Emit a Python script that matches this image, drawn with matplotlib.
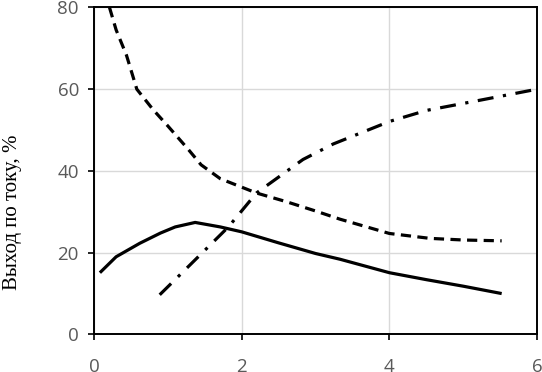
import matplotlib.pyplot as plt

# Solid curve
x_solid = [0.08, 0.3, 0.62, 0.9, 1.1, 1.37, 1.71, 2.0, 2.5, 3.0, 3.33, 4.0, 4.5, 5.0, 5.52]
y_solid = [15.1, 19.0, 22.3, 24.8, 26.3, 27.4, 26.3, 25.1, 22.4, 19.8, 18.4, 15.1, 13.4, 11.8, 10.0]

# Dashed curve
x_dash = [0.21, 0.3, 0.44, 0.58, 0.8, 1.0, 1.28, 1.45, 1.71, 2.2, 2.6, 3.0, 3.33, 4.0, 4.55, 5.0, 5.52]
y_dash = [80.0, 74.5, 68.3, 60.0, 55.0, 51.0, 45.2, 41.5, 38.1, 34.6, 32.5, 30.2, 28.2, 24.7, 23.5, 23.1, 22.9]

# Dash-dot curve
x_dd = [0.89, 1.3, 1.82, 2.2, 2.5, 2.83, 3.24, 4.0, 4.5, 5.14, 6.0]
y_dd = [9.7, 17.0, 26.3, 34.6, 38.5, 42.8, 46.6, 52.1, 54.8, 57.0, 60.0]

x_ticks = [0, 2, 4, 6]
y_ticks = [0, 20, 40, 60, 80]

fig = plt.figure(figsize=(5.42, 3.72), dpi=100)
ax = fig.add_axes([0.1734, 0.101, 0.8176, 0.879])

ax.plot(x_solid, y_solid, color="black", lw=2.3, solid_capstyle="butt")
ax.plot(x_dash, y_dash, color="black", lw=2.3, dashes=(3.2, 2.0))
ax.plot(x_dd, y_dd, color="black", lw=2.3, dashes=(5.0, 3.0, 1.0, 3.0))

ax.set_xlim(0, 6)
ax.set_ylim(0, 80)
ax.set_xticks(x_ticks)
ax.set_yticks(y_ticks)
ax.grid(True, color="#d9d9d9", lw=1.0)
ax.set_axisbelow(True)

for s in ax.spines.values():
    s.set_color("black")
    s.set_linewidth(1.4)

ax.tick_params(axis="both", colors="black", length=4.3, width=1.2,
               labelcolor="#595959", labelsize=13.5)
ax.tick_params(axis="x", pad=13)
ax.tick_params(axis="y", pad=6.5)
for lab in ax.get_xticklabels() + ax.get_yticklabels():
    lab.set_fontfamily("Open Sans")

ax.set_ylabel("Выход по току, %", family="Liberation Serif", fontsize=15)
ax.yaxis.set_label_coords(-0.183, 0.375)
ax.yaxis.label.set_verticalalignment("center")

plt.savefig("out.png", dpi=100)
